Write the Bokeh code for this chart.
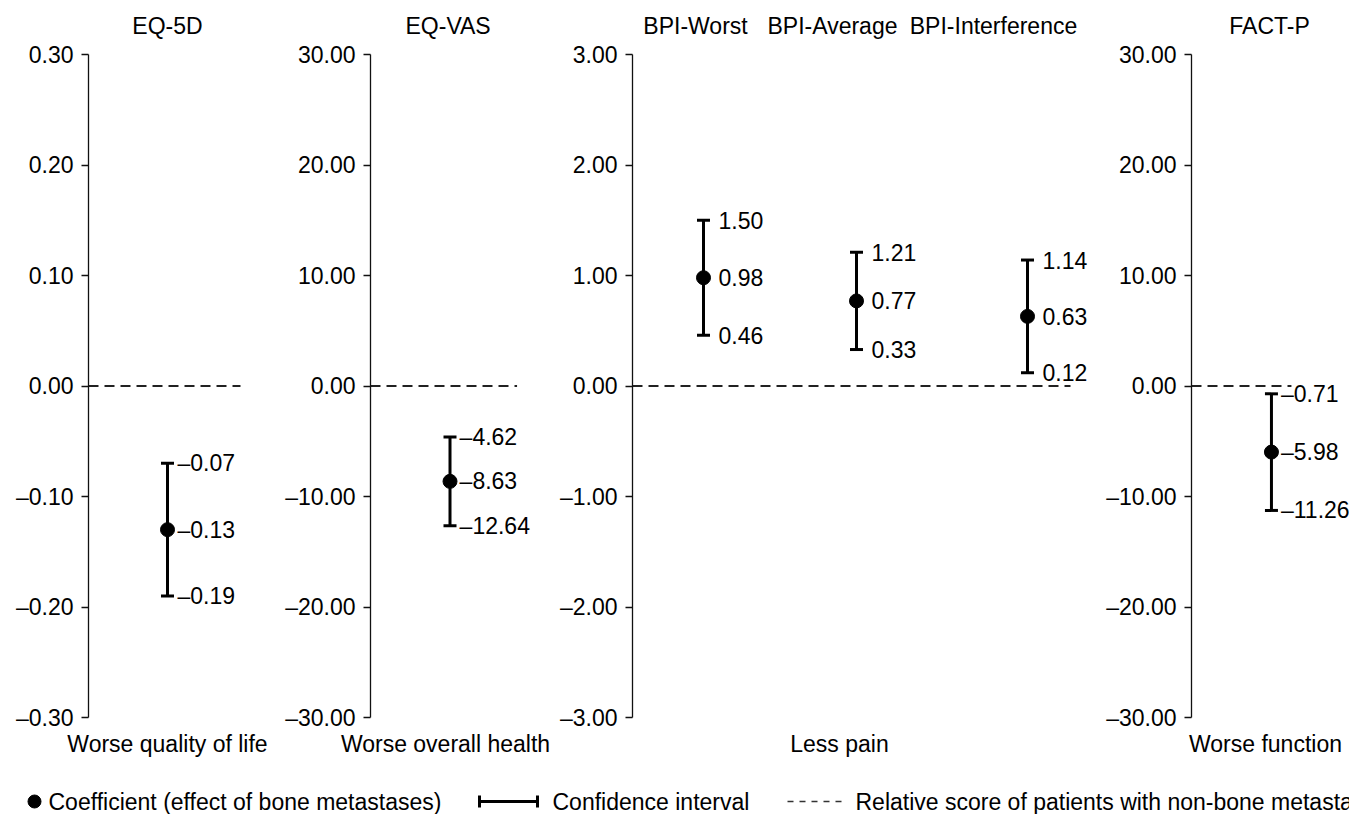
from bokeh.plotting import figure
from bokeh.models import (Range1d, FixedTicker, CustomJSTickFormatter, Whisker,
                          TeeHead, ColumnDataSource, LinearAxis)
from bokeh.layouts import column, row
from bokeh.embed import file_html
from bokeh.resources import INLINE
from bokeh.core.properties import value

# ---------------- data ----------------
measures = ["EQ-5D", "EQ-VAS", "BPI-Worst", "BPI-Average", "BPI-Interference", "FACT-P"]
coef = [-0.13, -8.63, 0.98, 0.77, 0.63, -5.98]
ci_low = [-0.19, -12.64, 0.46, 0.33, 0.12, -11.26]
ci_high = [-0.07, -4.62, 1.50, 1.21, 1.14, -0.71]
panel_of = [0, 1, 2, 2, 2, 3]
panel_limit = [0.30, 30.0, 3.0, 30.0]
panel_step = [0.10, 10.0, 1.0, 10.0]
panel_notes = ["Worse quality of life", "Worse overall health", "Less pain", "Worse function"]
legend_labels = ["Coefficient (effect of bone metastases)", "Confidence interval",
                 "Relative score of patients with non-bone metastases"]

# ---------------- layout (page pixels) ----------------
FIG_LEFT = [0, 282, 552, 1103]
FIG_RIGHT = [282, 552, 1103, 1349]
AXIS_X = [88, 362, 632, 1183]
ZERO_END = [240, 515, 1070, 1288]
POINT_X = [167, 445, 703, 856, 1027, 1267]
TITLE_X = [167, 443, 695, 832, 993, 1265]
NOTE_X = [167, 445, 839, 1265]
TOP_TICK_Y, BOT_TICK_Y = 54, 717
FRAME_TOP, FRAME_BOT = 0, 731
TITLE_Y, NOTE_Y = 25, 743
STRIP_TOP, STRIP_BOT, LY = 731, 814, 801
FONT = "Liberation Sans"
FS = "23px"

zero_y = (TOP_TICK_Y + BOT_TICK_Y) / 2
half = (BOT_TICK_Y - TOP_TICK_Y) / 2


def to_data(py, lim):
    return (zero_y - py) / half * lim


def fmt(v):
    return ("\u2013" if v < 0 else "") + f"{abs(v):.2f}"


formatter = CustomJSTickFormatter(
    code="return (tick < -1e-9 ? '\\u2013' : '') + Math.abs(tick).toFixed(2);")

figs = []
for k in range(4):
    lim = panel_limit[k]
    p = figure(width=FIG_RIGHT[k] - FIG_LEFT[k], height=FRAME_BOT - FRAME_TOP,
               x_range=Range1d(AXIS_X[k], FIG_RIGHT[k]),
               y_range=Range1d(to_data(FRAME_BOT, lim), to_data(FRAME_TOP, lim)),
               output_backend="svg", toolbar_location=None,
               x_axis_location=None, y_axis_location=None,
               min_border_left=AXIS_X[k] - FIG_LEFT[k], min_border_right=0,
               min_border_top=0, min_border_bottom=0,
               outline_line_color=None, background_fill_color="white",
               border_fill_color="white")
    p.xgrid.visible = False
    p.ygrid.visible = False

    ticks = [round(j * panel_step[k], 6) for j in range(-3, 4)]
    ax = LinearAxis(ticker=FixedTicker(ticks=ticks, minor_ticks=[]), formatter=formatter,
                    bounds=(-lim, lim))
    ax.axis_line_color = "#111111"
    ax.axis_line_width = 1.3
    ax.major_tick_line_color = "#111111"
    ax.major_tick_line_width = 1.3
    ax.major_tick_out = 7
    ax.major_tick_in = 0
    ax.minor_tick_out = 0
    ax.minor_tick_in = 0
    ax.major_label_standoff = 8
    ax.major_label_text_font = FONT
    ax.major_label_text_font_size = FS
    ax.major_label_text_color = "black"
    p.add_layout(ax, "left")

    # zero reference line
    p.segment(x0=[AXIS_X[k]], y0=[0], x1=[ZERO_END[k]], y1=[0],
              line_color="#222222", line_width=1.8, line_dash="10 6")

    idx = [i for i in range(len(measures)) if panel_of[i] == k]
    xs = [POINT_X[i] for i in idx]
    c = [coef[i] for i in idx]
    lo = [ci_low[i] for i in idx]
    hi = [ci_high[i] for i in idx]
    src = ColumnDataSource(dict(x=xs, c=c, lo=lo, hi=hi))
    w = Whisker(source=src, base="x", lower="lo", upper="hi", dimension="height",
                line_width=3, line_color="black",
                lower_head=TeeHead(size=13, line_width=3, line_color="black"),
                upper_head=TeeHead(size=13, line_width=3, line_color="black"))
    p.add_layout(w)
    p.scatter(x="x", y="c", source=src, size=14, color="black")

    for vals in (c, lo, hi):
        lx = [xs[j] + (10 if vals[j] < 0 else 15) for j in range(len(xs))]
        p.text(x=lx, y=vals, text=[fmt(v) for v in vals],
               text_font=value(FONT), text_font_size=FS, text_color="black",
               text_align="left", text_baseline="middle")

    # panel titles
    p.text(x=[TITLE_X[i] for i in idx], y=[to_data(TITLE_Y, lim)] * len(idx),
           text=[measures[i] for i in idx], text_font=value(FONT), text_font_size=FS,
           text_color="black", text_align="center", text_baseline="middle")
    figs.append(p)

# ---------------- bottom strip: direction notes + legend ----------------
lg = figure(width=FIG_RIGHT[-1] - FIG_LEFT[0], height=STRIP_BOT - STRIP_TOP,
            x_range=Range1d(FIG_LEFT[0], FIG_RIGHT[-1]),
            y_range=Range1d(STRIP_BOT, STRIP_TOP), output_backend="svg",
            toolbar_location=None, x_axis_location=None, y_axis_location=None,
            min_border=0, outline_line_color=None)
lg.xgrid.visible = False
lg.ygrid.visible = False
lg.text(x=NOTE_X, y=[NOTE_Y] * len(NOTE_X), text=panel_notes, text_font=value(FONT),
        text_font_size=FS, text_color="black", text_align="center", text_baseline="middle")
lg.scatter(x=[34], y=[LY], size=13, color="black")
lsrc = ColumnDataSource(dict(b=[LY], lo=[479], hi=[537]))
lg.add_layout(Whisker(source=lsrc, base="b", lower="lo", upper="hi", dimension="width",
                      line_width=3, line_color="black",
                      lower_head=TeeHead(size=12, line_width=3, line_color="black"),
                      upper_head=TeeHead(size=12, line_width=3, line_color="black")))
lg.segment(x0=[787], y0=[LY], x1=[843], y1=[LY], line_color="#333333",
           line_width=1.5, line_dash="6 6")
lg.text(x=[48, 552, 855], y=[LY] * 3, text=legend_labels, text_font=value(FONT),
        text_font_size=FS, text_color="black", text_align="left", text_baseline="middle")

layout = column(row(*figs, spacing=0), lg, spacing=0)
open("out.html", "w").write(file_html(layout, INLINE))
